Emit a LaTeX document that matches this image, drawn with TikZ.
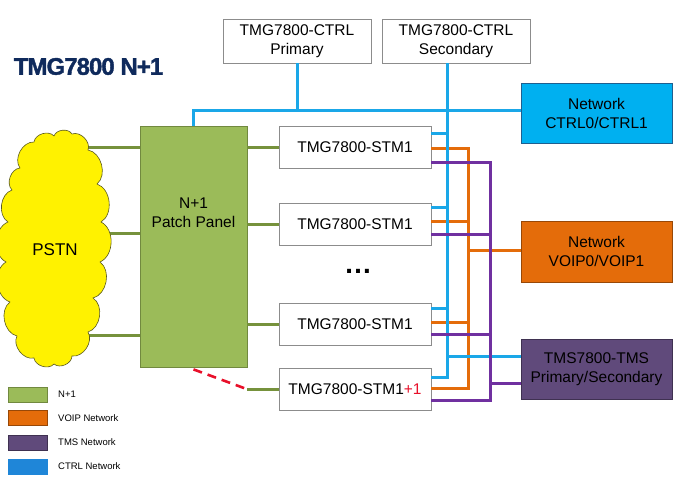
\documentclass[tikz,border=0pt]{standalone}
\usepackage{fontspec}
\setmainfont{Liberation Sans}
\usetikzlibrary{backgrounds}
\definecolor{ctrlc}{HTML}{1AA7E8}
\definecolor{ctrlfill}{HTML}{00B0F0}
\definecolor{ctrlborder}{HTML}{1F5F8F}
\definecolor{voipc}{HTML}{E46C0A}
\definecolor{voipborder}{HTML}{984807}
\definecolor{tmsc}{HTML}{7030A0}
\definecolor{tmsfill}{HTML}{604A7B}
\definecolor{tmsborder}{HTML}{3F3151}
\definecolor{greenc}{HTML}{76923C}
\definecolor{panelfill}{HTML}{9BBB59}
\definecolor{panelborder}{HTML}{71893F}
\definecolor{legblue}{HTML}{1F86D8}
\definecolor{titlec}{HTML}{0F2A5C}
\definecolor{plusred}{HTML}{E8102A}
\definecolor{boxgray}{HTML}{8C8C8C}
\definecolor{cloudline}{HTML}{5A5A20}
\begin{document}
\begin{tikzpicture}[x=1pt,y=-1pt,
  txt/.style={font=\fontsize{15.5}{19}\selectfont, align=center, inner sep=0pt},
  box/.style={txt, draw=boxgray, fill=white, line width=0.8pt},
  stmbox/.style={box, minimum width=152pt, minimum height=42pt},
  ctrlbox/.style={box, minimum width=148pt, minimum height=44pt},
  netbox/.style={txt, line width=0.8pt, minimum width=151pt, minimum height=60pt, text=black},
  ctrl/.style={line width=3pt, draw=ctrlc},
  voipl/.style={line width=3pt, draw=voipc},
  tmsl/.style={line width=3pt, draw=tmsc},
  nline/.style={line width=3pt, draw=greenc},
  spareline/.style={line width=2.6pt, draw=plusred, dash pattern=on 9pt off 6pt},
  swatch/.style={minimum width=39pt, minimum height=15pt, inner sep=0pt, line width=0.8pt},
  legtxt/.style={font=\fontsize{9.5}{11}\selectfont, anchor=west, inner sep=0pt},
  puff/.style={bend left=65}
]
\useasboundingbox (0,0) rectangle (680,482);

% coordinates of the vertical buses
\coordinate (bbus) at (447,0);
\coordinate (obus) at (468,0);
\coordinate (pbus) at (490,0);

% title
\node[font=\fontsize{24}{24}\selectfont\bfseries\addfontfeatures{LetterSpace=-4,FakeBold=1.5}, text=titlec, inner sep=0pt] (title) at (88.5,66.5) {TMG7800 N+1};

% top control boxes
\node[ctrlbox] (ctrlP) at (297,41) {TMG7800-CTRL\\Primary};
\node[ctrlbox] (ctrlS) at (456,41) {TMG7800-CTRL\\Secondary};

% network boxes
\node[netbox, fill=ctrlfill, draw=ctrlborder] (ctrlN) at (596.5,113) {Network\\CTRL0/CTRL1};
\node[netbox, fill=voipc, draw=voipborder, minimum height=61pt] (voip) at (596.5,251.5) {Network\\VOIP0/VOIP1};
\node[netbox, fill=tmsfill, draw=tmsborder] (tms) at (596.5,369) {TMS7800-TMS\\Primary/Secondary};

% STM boxes
\node[stmbox] (stm1) at (355,147) {TMG7800-STM1};
\node[stmbox] (stm2) at (355,224.5) {TMG7800-STM1};
\node[stmbox] (stm3) at (355,324) {TMG7800-STM1};
\node[stmbox] (stm4) at (355,389) {TMG7800-STM1{\color{plusred}+1}};

\node[font=\fontsize{28}{28}\selectfont\bfseries, inner sep=0pt] (dots) at (358,271) {…};

% patch panel
\node[fill=panelfill, draw=panelborder, line width=0.8pt, minimum width=107pt, minimum height=241pt, inner sep=0pt] (panel) at (193.5,246.5) {};
\node[txt] (paneltxt) at (193.5,213) {N+1\\Patch Panel};

% PSTN cloud
\draw[draw=cloudline, fill=yellow, line width=0.6pt]
  (20,168) to[puff] (34,142) to[puff] (54,136) to[puff] (72,134) to[puff] (88,150)
  to[puff] (97,184) to[puff] (101,222) to[puff] (100,262) to[puff] (93,298)
  to[puff] (88,332) to[puff] (72,356) to[puff] (54,364) to[puff] (34,358)
  to[puff] (17,336) to[puff] (10,302) to[puff] (6,262) to[puff] (8,222)
  to[puff] (12,190) to[puff] (20,168) -- cycle;
\node[font=\fontsize{17}{20}\selectfont, inner sep=0pt] (pstn) at (55,250) {PSTN};

\begin{pgfonlayer}{background}
  \fill[white] (0,0) rectangle (680,482);
  % PSTN to panel
  \draw[nline] (pstn.center |- 0,147) -- (panel.west |- 0,147);
  \draw[nline] (pstn.center |- 0,233) -- (panel.west |- 0,233);
  \draw[nline] (pstn.center |- 0,335) -- (panel.west |- 0,335);
\end{pgfonlayer}

% panel to STMs
\draw[nline] (panel.east |- stm1.west) -- (stm1.west);
\draw[nline] (panel.east |- stm2.west) -- (stm2.west);
\draw[nline] (panel.east |- stm3.west) -- (stm3.west);
\draw[nline] (stm4.west) -- ++(-32,0) coordinate (spare);
\draw[spareline] ([yshift=-2pt]panel.south) -- (spare);

% CTRL network
\draw[ctrl] (ctrlP.south) -- (ctrlP.south |- 0,110);
\draw[ctrl] (panel.north) |- (ctrlN.west |- 0,110);

% VOIP network
\draw[voipl] (stm1.east |- 0,148) -| (obus |- 0,388) -- (stm4.east |- 0,388);
\draw[voipl] (stm2.east |- 0,221) -- (obus |- 0,221);
\draw[voipl] (stm3.east |- 0,322) -- (obus |- 0,322);
\draw[voipl] (obus |- 0,250) -- (voip.west |- 0,250);

% CTRL bus
\draw[ctrl] (ctrlS.south -| bbus) -- (bbus |- 0,378.5);
\draw[ctrl] (stm1.east |- 0,133) -- (bbus |- 0,133);
\draw[ctrl] (stm2.east |- 0,207) -- (bbus |- 0,207);
\draw[ctrl] (stm3.east |- 0,308) -- (bbus |- 0,308);
\draw[ctrl] (stm4.east |- 0,377) -- (bbus |- 0,377);
\draw[ctrl] (bbus |- 0,356) -- (tms.west |- 0,356);

% TMS network
\draw[tmsl] (stm1.east |- 0,162) -| (pbus |- 0,400) -- (stm4.east |- 0,400);
\draw[tmsl] (stm2.east |- 0,234) -- (pbus |- 0,234);
\draw[tmsl] (stm3.east |- 0,334) -- (pbus |- 0,334);
\draw[tmsl] (pbus |- 0,383) -- (tms.west |- 0,383);

% legend
\node[swatch, fill=panelfill, draw=panelborder] (lg1) at (27.5,394.5) {};
\node[swatch, fill=voipc, draw=voipborder] (lg2) at (27.5,418) {};
\node[swatch, fill=tmsfill, draw=tmsborder] (lg3) at (27.5,442.5) {};
\node[swatch, fill=legblue, draw=legblue] (lg4) at (27.5,466.5) {};
\node[legtxt] (lt1) at (58,394.5) {N+1};
\node[legtxt] (lt2) at (58,418) {VOIP Network};
\node[legtxt] (lt3) at (58,442.5) {TMS Network};
\node[legtxt] (lt4) at (58,466.5) {CTRL Network};
\end{tikzpicture}
\end{document}
